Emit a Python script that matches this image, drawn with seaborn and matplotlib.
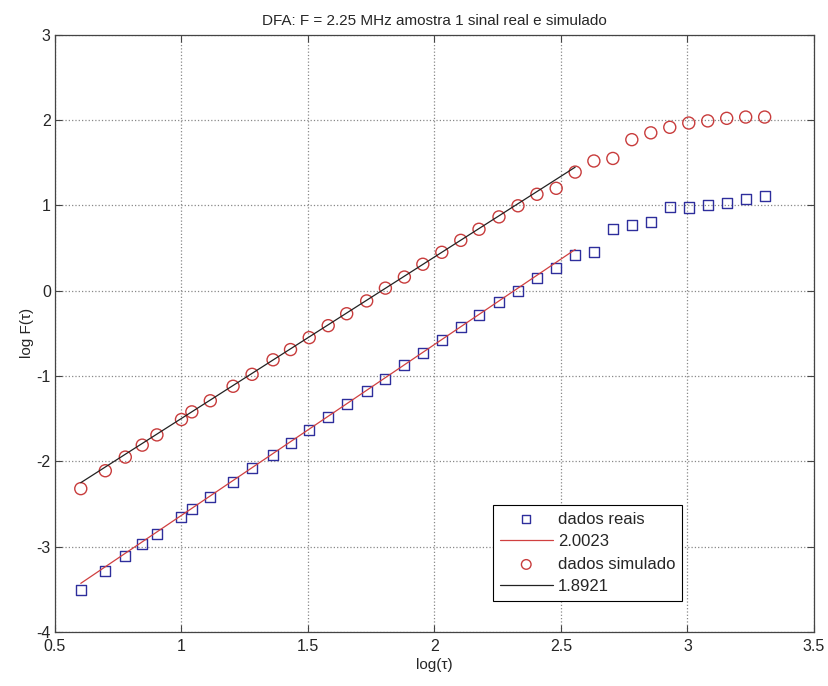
import matplotlib
matplotlib.use("Agg")
import matplotlib.pyplot as plt
import numpy as np
import pandas as pd
import seaborn as sns

# log(tau) dos pontos
log_tau = [0.602, 0.699, 0.778, 0.845, 0.903, 1.000, 1.041, 1.114, 1.204, 1.279,
           1.362, 1.431, 1.505, 1.580, 1.653, 1.732, 1.806, 1.881, 1.954, 2.029,
           2.104, 2.176, 2.255, 2.330, 2.405, 2.481, 2.556, 2.630, 2.705, 2.780,
           2.855, 2.930, 3.005, 3.080, 3.155, 3.230, 3.305]

# log F(tau) - sinal real (quadrados)
real = [-3.51, -3.28, -3.11, -2.97, -2.85, -2.65, -2.56, -2.42, -2.24, -2.08,
        -1.92, -1.78, -1.63, -1.48, -1.33, -1.18, -1.03, -0.875, -0.73, -0.58,
        -0.42, -0.28, -0.13, 0.00, 0.15, 0.27, 0.42, 0.45, 0.72, 0.77,
        0.81, 0.98, 0.975, 1.00, 1.03, 1.07, 1.11]

# log F(tau) - sinal simulado (circulos)
simulado = [-2.32, -2.11, -1.95, -1.81, -1.69, -1.51, -1.42, -1.29, -1.12, -0.98,
            -0.81, -0.69, -0.55, -0.41, -0.27, -0.12, 0.03, 0.16, 0.31, 0.45,
            0.59, 0.72, 0.865, 0.995, 1.13, 1.20, 1.39, 1.52, 1.55, 1.77,
            1.85, 1.915, 1.965, 1.99, 2.02, 2.035, 2.035]

# ajustes lineares (inclinacao, intercepto) na regiao de escala
n_ajuste = 27
ajuste_real = (2.0023, -4.635)
ajuste_sim = (1.8921, -3.389)

df = pd.DataFrame({"x": log_tau, "real": real, "sim": simulado})
xa = np.array([log_tau[0], log_tau[n_ajuste - 1]])
linhas = pd.DataFrame({
    "x": xa,
    "real": ajuste_real[0] * xa + ajuste_real[1],
    "sim": ajuste_sim[0] * xa + ajuste_sim[1],
})

sns.set_theme(style="ticks")
plt.rcParams["font.family"] = ["Liberation Sans", "DejaVu Sans"]
plt.rcParams["xtick.direction"] = "in"
plt.rcParams["ytick.direction"] = "in"
plt.rcParams["axes.unicode_minus"] = False

azul = "#2e2e9c"
vermelho = "#c83c3c"

fig = plt.figure(figsize=(8.29, 6.86), dpi=100)
ax = fig.add_axes([0.0663, 0.0787, 0.9156, 0.8707])

sns.scatterplot(data=df, x="x", y="real", marker="s", s=52, facecolors="none",
                edgecolors=azul, linewidth=1.0, label="dados reais", ax=ax)
sns.lineplot(data=linhas, x="x", y="real", color="#d04040", linewidth=0.9,
             label="2.0023", ax=ax)
sns.scatterplot(data=df, x="x", y="sim", marker="o", s=75, facecolors="none",
                edgecolors=vermelho, linewidth=1.0, label="dados simulado", ax=ax)
sns.lineplot(data=linhas, x="x", y="sim", color="#222222", linewidth=0.9,
             label="1.8921", ax=ax)

ax.set_xlim(0.5, 3.5)
ax.set_ylim(-4, 3)
ax.set_xticks(np.arange(0.5, 3.51, 0.5))
ax.set_xticklabels(["0.5", "1", "1.5", "2", "2.5", "3", "3.5"])
ax.set_yticks(range(-4, 4))
ax.tick_params(labelsize=11.5, top=True, right=True, length=5, width=0.8,
               color="#444444")
ax.tick_params(axis="x", pad=5)
ax.tick_params(axis="y", pad=3)
ax.grid(True, linestyle=":", color="#888888", linewidth=0.9)
for s in ax.spines.values():
    s.set_color("#444444")
    s.set_linewidth(0.9)

ax.set_xlabel("log(\u03c4)", fontsize=11, labelpad=3)
ax.set_ylabel("log F(\u03c4)", fontsize=11, labelpad=2)
ax.set_title("DFA: F = 2.25 MHz amostra 1 sinal real e simulado", fontsize=11, pad=7)

leg = ax.legend(loc="lower left", bbox_to_anchor=(0.566, 0.038), fontsize=12,
                fancybox=False, framealpha=1, edgecolor="black",
                handlelength=3.2, handletextpad=0.3, borderpad=0.4,
                labelspacing=0.45, markerscale=0.8)
leg.get_frame().set_linewidth(0.8)

fig.savefig("out.png", dpi=100)
